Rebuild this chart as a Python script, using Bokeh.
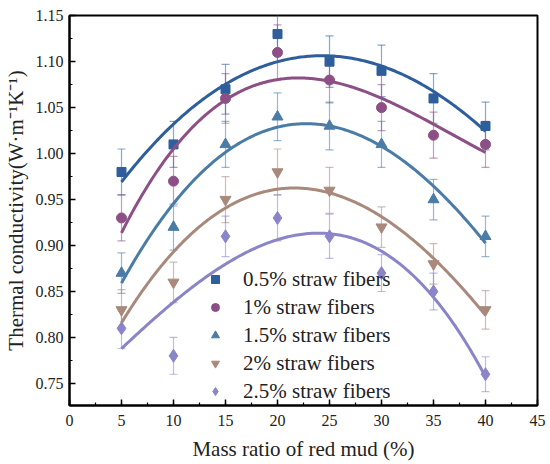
import numpy as np
from bokeh.plotting import figure
from bokeh.models import ColumnDataSource, Whisker, TeeHead, Legend, LegendItem, Range1d, SingleIntervalTicker, NumeralTickFormatter
from bokeh.embed import file_html
from bokeh.resources import INLINE

x_ratio = [5, 10, 15, 20, 25, 30, 35, 40]
labels = ["0.5% straw fibers", "1% straw fibers", "1.5% straw fibers", "2% straw fibers", "2.5% straw fibers"]
s05 = [0.98, 1.01, 1.07, 1.13, 1.10, 1.09, 1.06, 1.03]
s10 = [0.93, 0.97, 1.06, 1.11, 1.08, 1.05, 1.02, 1.01]
s15 = [0.87, 0.92, 1.01, 1.04, 1.03, 1.01, 0.95, 0.91]
s20 = [0.83, 0.86, 0.95, 0.98, 0.96, 0.92, 0.88, 0.83]
s25 = [0.81, 0.78, 0.91, 0.93, 0.91, 0.87, 0.85, 0.76]
e05 = [0.025, 0.025, 0.027, 0.030, 0.028, 0.028, 0.027, 0.026]
e10 = [0.025, 0.027, 0.027, 0.030, 0.025, 0.025, 0.025, 0.025]
e15 = [0.022, 0.025, 0.025, 0.026, 0.026, 0.025, 0.022, 0.022]
e20 = [0.022, 0.022, 0.025, 0.025, 0.025, 0.022, 0.022, 0.021]
e25 = [0.022, 0.020, 0.022, 0.025, 0.024, 0.020, 0.020, 0.019]

series = [s05, s10, s15, s20, s25]
errors = [e05, e10, e15, e20, e25]
colors = ["#2E5E9C", "#8C4F86", "#4A7CA6", "#A8897C", "#8A84C8"]
markers = ["square", "circle", "triangle", "inverted_triangle", "diamond"]
sizes = [9, 10, 11, 11, 13]

FONT = "Liberation Serif"

p = figure(width=550, height=464, output_backend="svg", toolbar_location=None,
           x_range=Range1d(0, 45), y_range=Range1d(0.726, 1.1502),
           min_border_left=69, min_border_right=13, min_border_top=15, min_border_bottom=59)
p.grid.visible = False
p.outline_line_color = "black"
p.outline_line_width = 2
p.background_fill_color = "white"

for ax in (p.xaxis[0], p.yaxis[0]):
    ax.axis_line_width = 2
    ax.major_tick_in = 6
    ax.major_tick_out = 0
    ax.minor_tick_in = 3
    ax.minor_tick_out = 0
    ax.major_tick_line_width = 1.5
    ax.minor_tick_line_width = 1.2
    ax.major_label_text_font = FONT
    ax.major_label_text_font_size = "16px"
    ax.major_label_text_color = "#222222"
    ax.axis_label_text_font = FONT
    ax.axis_label_text_font_size = "21px"
    ax.axis_label_text_font_style = "normal"
    ax.axis_label_text_color = "#222222"

p.xaxis.ticker = SingleIntervalTicker(interval=5, num_minor_ticks=2)
p.yaxis.ticker = SingleIntervalTicker(interval=0.05, num_minor_ticks=2)
p.yaxis.formatter = NumeralTickFormatter(format="0.00")
p.xaxis.axis_label = "Mass ratio of red mud (%)"
p.yaxis.axis_label = "Thermal conductivity(W·m⁻¹K⁻¹)"
p.xaxis.major_label_standoff = 9
p.yaxis.major_label_standoff = 6
p.xaxis.axis_label_standoff = 8
p.yaxis.axis_label_standoff = 5

items = []
xs_fit = np.linspace(min(x_ratio), max(x_ratio), 200)
for vals, errs, col, mk, sz, lab in zip(series, errors, colors, markers, sizes, labels):
    v = np.array(vals)
    e = np.array(errs)
    src = ColumnDataSource(dict(x=x_ratio, y=vals, upper=list(v + e), lower=list(v - e)))
    w = Whisker(base="x", upper="upper", lower="lower", source=src, dimension="height",
                line_color=col, line_alpha=0.55, line_width=1.2,
                upper_head=TeeHead(size=8, line_color=col, line_alpha=0.55, line_width=1.2),
                lower_head=TeeHead(size=8, line_color=col, line_alpha=0.55, line_width=1.2))
    p.add_layout(w)
    coef = np.polyfit(x_ratio, vals, 3)
    p.line(xs_fit, np.polyval(coef, xs_fit), line_color=col, line_width=3)
    r = p.scatter("x", "y", source=src, marker=mk, size=sz, fill_color=col, line_color=col)
    items.append(LegendItem(label=lab, renderers=[r]))

legend = Legend(items=items, location=(136, 0), border_line_alpha=0, background_fill_alpha=0,
                padding=0, margin=0, spacing=0, glyph_width=20, glyph_height=28, label_height=28,
                label_standoff=18, label_text_font=FONT, label_text_font_size="21px",
                label_text_color="#222222")
p.add_layout(legend, "center")

open("out.html", "w").write(file_html(p, INLINE))
